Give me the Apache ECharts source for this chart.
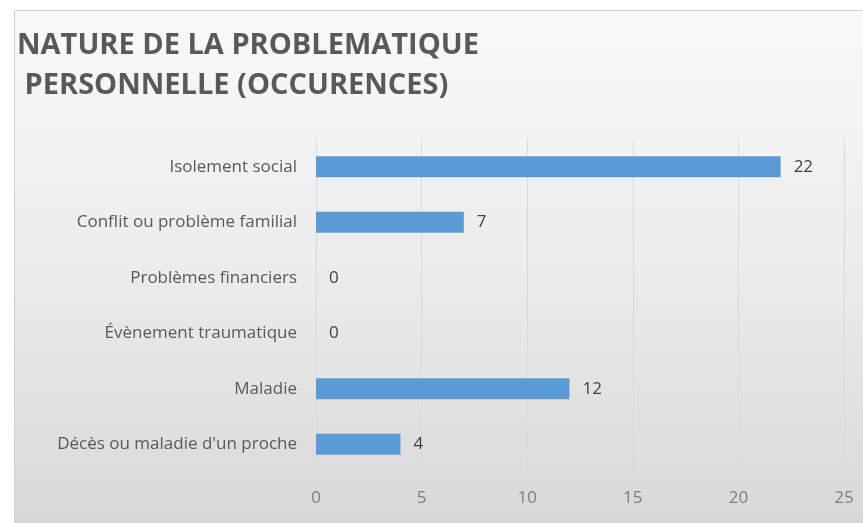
<!DOCTYPE html>
<html><head><meta charset="utf-8">
<script src="https://cdn.jsdelivr.net/npm/echarts@6/dist/echarts.min.js"></script>
<style>html,body{margin:0;padding:0;background:#fff}#c{width:863px;height:523px}</style>
</head><body><div id="c"></div>
<script>
const titleLines = ['NATURE DE LA PROBLEMATIQUE', ' PERSONNELLE (OCCURENCES)'];
const categories = ["Décès ou maladie d'un proche", 'Maladie', 'Évènement traumatique', 'Problèmes financiers', 'Conflit ou problème familial', 'Isolement social'];
const values = [4, 12, 0, 0, 7, 22];
const xTicks = { min: 0, max: 25, interval: 5 };

const chart = echarts.init(document.getElementById('c'), null, { renderer: 'canvas' });
chart.setOption({
  animation: false,
  backgroundColor: '#ffffff',
  graphic: [{
    type: 'rect', left: 14, top: 10, z: -10,
    shape: { width: 849, height: 513 },
    style: {
      fill: new echarts.graphic.LinearGradient(0, 0, 0, 1, [
        { offset: 0, color: '#f9f9f9' },
        { offset: 0.5, color: '#ececec' },
        { offset: 1, color: '#d8d8d8' }
      ]),
      stroke: '#d0d0d0', lineWidth: 1
    }
  }],
  title: {
    text: titleLines.join('\n'),
    left: 12, top: 21,
    textStyle: { fontFamily: 'Open Sans', fontWeight: 'bold', fontSize: 29, lineHeight: 40, color: '#595959' }
  },
  grid: { left: 316, right: 19, top: 139, bottom: 51, containLabel: false },
  xAxis: {
    type: 'value', min: xTicks.min, max: xTicks.max, interval: xTicks.interval,
    position: 'bottom',
    axisLine: { show: false }, axisTick: { show: false },
    splitLine: { show: true, lineStyle: { color: '#d9d9d9', width: 1 } },
    axisLabel: { color: '#7f7f7f', fontFamily: 'Open Sans', fontSize: 17, margin: 18 }
  },
  yAxis: {
    type: 'category', data: categories,
    axisLine: { show: false }, axisTick: { show: false },
    axisLabel: { color: '#595959', fontFamily: 'Open Sans', fontSize: 17, margin: 19 }
  },
  series: [{
    type: 'bar', data: values, barWidth: 21,
    itemStyle: { color: '#5b9bd5' },
    label: { show: true, position: 'right', distance: 13, color: '#404040', fontFamily: 'Open Sans', fontSize: 17 }
  }]
});
</script></body></html>
